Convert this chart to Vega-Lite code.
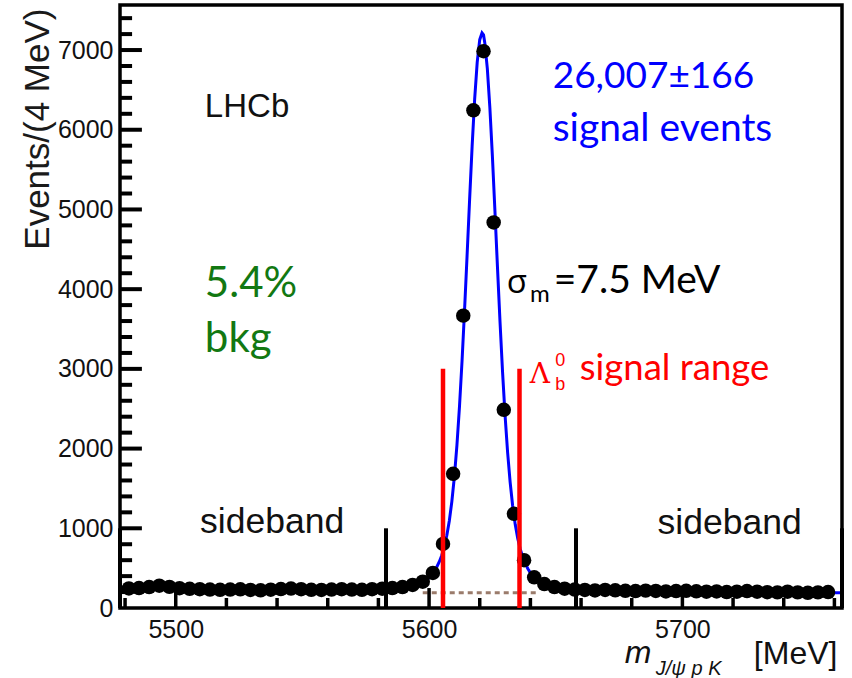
{
  "$schema": "https://vega.github.io/schema/vega-lite/v6.json",
  "width": 722,
  "height": 603,
  "autosize": {"type": "none"},
  "padding": {"left": 120, "top": 5, "right": 10, "bottom": 70},
  "background": "white",
  "config": {
    "view": {"stroke": "black", "strokeWidth": 3.5},
    "axis": {"grid": false, "labelFont": "Liberation Sans", "titleFont": "Liberation Sans"}
  },
  "datasets": {
    "points": [
      {"m": 5481.5, "n": 245}, {"m": 5485.5, "n": 250}, {"m": 5489.5, "n": 262}, {"m": 5493.5, "n": 280},
      {"m": 5497.5, "n": 265}, {"m": 5501.5, "n": 248}, {"m": 5505.5, "n": 240}, {"m": 5509.5, "n": 236},
      {"m": 5513.5, "n": 232}, {"m": 5517.5, "n": 228}, {"m": 5521.5, "n": 232}, {"m": 5525.5, "n": 235},
      {"m": 5529.5, "n": 226}, {"m": 5533.5, "n": 222}, {"m": 5537.5, "n": 230}, {"m": 5541.5, "n": 238},
      {"m": 5545.5, "n": 244}, {"m": 5549.5, "n": 236}, {"m": 5553.5, "n": 228}, {"m": 5557.5, "n": 226},
      {"m": 5561.5, "n": 232}, {"m": 5565.5, "n": 236}, {"m": 5569.5, "n": 232}, {"m": 5573.5, "n": 228},
      {"m": 5577.5, "n": 236}, {"m": 5581.5, "n": 242}, {"m": 5585.5, "n": 250}, {"m": 5589.5, "n": 262},
      {"m": 5593.5, "n": 290}, {"m": 5597.5, "n": 330}, {"m": 5601.5, "n": 440}, {"m": 5605.5, "n": 804},
      {"m": 5609.5, "n": 1683}, {"m": 5613.5, "n": 3668}, {"m": 5617.5, "n": 6244}, {"m": 5621.5, "n": 6985},
      {"m": 5625.5, "n": 4837}, {"m": 5629.5, "n": 2487}, {"m": 5633.5, "n": 1181}, {"m": 5637.5, "n": 600},
      {"m": 5641.5, "n": 385}, {"m": 5645.5, "n": 300}, {"m": 5649.5, "n": 262}, {"m": 5653.5, "n": 242},
      {"m": 5657.5, "n": 232}, {"m": 5661.5, "n": 226}, {"m": 5665.5, "n": 220}, {"m": 5669.5, "n": 226},
      {"m": 5673.5, "n": 222}, {"m": 5677.5, "n": 216}, {"m": 5681.5, "n": 212}, {"m": 5685.5, "n": 218},
      {"m": 5689.5, "n": 214}, {"m": 5693.5, "n": 208}, {"m": 5697.5, "n": 212}, {"m": 5701.5, "n": 216},
      {"m": 5705.5, "n": 210}, {"m": 5709.5, "n": 204}, {"m": 5713.5, "n": 208}, {"m": 5717.5, "n": 200},
      {"m": 5721.5, "n": 204}, {"m": 5725.5, "n": 212}, {"m": 5729.5, "n": 204}, {"m": 5733.5, "n": 198},
      {"m": 5737.5, "n": 196}, {"m": 5741.5, "n": 204}, {"m": 5745.5, "n": 196}, {"m": 5749.5, "n": 190},
      {"m": 5753.5, "n": 196}, {"m": 5757.5, "n": 200}
    ],
    "curve": [
      {"m": 5478, "f": 240}, {"m": 5490, "f": 238}, {"m": 5500, "f": 236}, {"m": 5510, "f": 234},
      {"m": 5520, "f": 233}, {"m": 5530, "f": 231}, {"m": 5540, "f": 229}, {"m": 5550, "f": 227},
      {"m": 5560, "f": 226}, {"m": 5570, "f": 224}, {"m": 5580, "f": 222}, {"m": 5585, "f": 224},
      {"m": 5590, "f": 235}, {"m": 5592, "f": 246}, {"m": 5594, "f": 263}, {"m": 5595, "f": 274},
      {"m": 5596, "f": 288}, {"m": 5597, "f": 305}, {"m": 5598, "f": 327}, {"m": 5599, "f": 351},
      {"m": 5600, "f": 380}, {"m": 5601, "f": 416}, {"m": 5602, "f": 458}, {"m": 5603, "f": 511},
      {"m": 5604, "f": 577}, {"m": 5605, "f": 659}, {"m": 5606, "f": 767}, {"m": 5607, "f": 909},
      {"m": 5608, "f": 1095}, {"m": 5609, "f": 1338}, {"m": 5610, "f": 1650}, {"m": 5611, "f": 2042},
      {"m": 5612, "f": 2523}, {"m": 5613, "f": 3089}, {"m": 5614, "f": 3729}, {"m": 5615, "f": 4418},
      {"m": 5616, "f": 5122}, {"m": 5617, "f": 5795}, {"m": 5618, "f": 6386}, {"m": 5619, "f": 6845},
      {"m": 5620, "f": 7130}, {"m": 5620.9, "f": 7215}, {"m": 5621.5, "f": 7190}, {"m": 5622, "f": 7089},
      {"m": 5623, "f": 6766}, {"m": 5624, "f": 6276}, {"m": 5625, "f": 5665}, {"m": 5626, "f": 4981},
      {"m": 5627, "f": 4276}, {"m": 5628, "f": 3594}, {"m": 5629, "f": 2966}, {"m": 5630, "f": 2417},
      {"m": 5631, "f": 1954}, {"m": 5632, "f": 1578}, {"m": 5633, "f": 1280}, {"m": 5634, "f": 1049},
      {"m": 5635, "f": 872}, {"m": 5636, "f": 738}, {"m": 5637, "f": 636}, {"m": 5638, "f": 556},
      {"m": 5639, "f": 493}, {"m": 5640, "f": 442}, {"m": 5641, "f": 401}, {"m": 5642, "f": 367},
      {"m": 5643, "f": 338}, {"m": 5644, "f": 313}, {"m": 5645, "f": 294}, {"m": 5646, "f": 277},
      {"m": 5648, "f": 251}, {"m": 5650, "f": 235}, {"m": 5655, "f": 215}, {"m": 5660, "f": 208},
      {"m": 5670, "f": 206}, {"m": 5680, "f": 205}, {"m": 5690, "f": 203}, {"m": 5700, "f": 201},
      {"m": 5710, "f": 199}, {"m": 5720, "f": 198}, {"m": 5730, "f": 196}, {"m": 5740, "f": 194},
      {"m": 5750, "f": 192}, {"m": 5763, "f": 190}
    ]
  },
  "resolve": {"axis": {"x": "independent", "y": "independent"}},
  "layer": [
    {
      "data": {"name": "curve"},
      "mark": {"type": "line", "color": "#0000ff", "strokeWidth": 3},
      "encoding": {
        "x": {"field": "m", "type": "quantitative", "scale": {"domain": [5478, 5763], "nice": false, "zero": false}, "axis": null},
        "y": {"field": "f", "type": "quantitative", "scale": {"domain": [0, 7565], "nice": false, "zero": false}, "axis": null}
      }
    },
    {
      "data": {"values": [{"a": 5597.5, "b": 5642.5, "v": 192}]},
      "mark": {"type": "rule", "color": "#9a7b6b", "strokeWidth": 3, "strokeDash": [5, 4]},
      "encoding": {
        "x": {"field": "a", "type": "quantitative", "scale": {"domain": [5478, 5763], "nice": false, "zero": false}, "axis": null},
        "x2": {"field": "b"},
        "y": {"field": "v", "type": "quantitative", "scale": {"domain": [0, 7565], "nice": false, "zero": false}, "axis": null}
      }
    },
    {
      "data": {"name": "points"},
      "mark": {"type": "circle", "size": 210, "color": "black", "opacity": 1},
      "encoding": {
        "x": {"field": "m", "type": "quantitative", "scale": {"domain": [5478, 5763], "nice": false, "zero": false},
          "axis": {"orient": "bottom", "values": [5500, 5600, 5700], "format": "d", "ticks": false,
            "domain": false, "labelFontSize": 25, "labelColor": "#111111", "labelPadding": 9, "labelFlush": false, "title": null}},
        "y": {"field": "n", "type": "quantitative", "scale": {"domain": [0, 7565], "nice": false, "zero": false},
          "axis": {"orient": "left", "values": [0, 1000, 2000, 3000, 4000, 5000, 6000, 7000], "format": "d", "ticks": false,
            "domain": false, "labelFontSize": 25, "labelColor": "#111111", "labelPadding": 7, "labelFlush": false,
            "title": "Events/(4 MeV)", "titleFontSize": 35, "titleFontWeight": "normal", "titleColor": "#1a1a1a",
            "titleX": -72, "titleY": 3, "titleAlign": "right", "titleBaseline": "alphabetic", "titleAngle": -90}}
      }
    },
    {
      "data": {"values": [{"m": 5478}, {"m": 5583}, {"m": 5658}, {"m": 5763}]},
      "mark": {"type": "rule", "color": "black", "strokeWidth": 4},
      "encoding": {
        "x": {"field": "m", "type": "quantitative", "scale": {"domain": [5478, 5763], "nice": false, "zero": false}, "axis": null},
        "y": {"datum": 0, "type": "quantitative", "scale": {"domain": [0, 7565], "nice": false, "zero": false}, "axis": null},
        "y2": {"datum": 1000}
      }
    },
    {
      "data": {"values": [{"m": 5605.5}, {"m": 5635.7}]},
      "mark": {"type": "rule", "color": "#ff0000", "strokeWidth": 4.5},
      "encoding": {
        "x": {"field": "m", "type": "quantitative", "scale": {"domain": [5478, 5763], "nice": false, "zero": false}, "axis": null},
        "y": {"datum": 0, "type": "quantitative", "scale": {"domain": [0, 7565], "nice": false, "zero": false}, "axis": null},
        "y2": {"datum": 3000}
      }
    },
    {
      "data": {"values": [{"label": "LHCb", "x": 5511.5, "y": 6160}]},
      "mark": {"type": "text", "align": "left", "baseline": "alphabetic", "font": "Liberation Sans", "fontSize": 33, "color": "#111111"},
      "encoding": {
        "x": {"field": "x", "type": "quantitative", "scale": {"domain": [5478, 5763], "nice": false, "zero": false}, "axis": null},
        "y": {"field": "y", "type": "quantitative", "scale": {"domain": [0, 7565], "nice": false, "zero": false}, "axis": null},
        "text": {"field": "label"}
      }
    },
    {
      "data": {"values": [
        {"label": "sideband", "x": 5509.6, "y": 941},
        {"label": "sideband", "x": 5690.2, "y": 928}
      ]},
      "mark": {"type": "text", "align": "left", "baseline": "alphabetic", "font": "Liberation Sans", "fontSize": 35.5, "color": "#111111"},
      "encoding": {
        "x": {"field": "x", "type": "quantitative", "scale": {"domain": [5478, 5763], "nice": false, "zero": false}, "axis": null},
        "y": {"field": "y", "type": "quantitative", "scale": {"domain": [0, 7565], "nice": false, "zero": false}, "axis": null},
        "text": {"field": "label"}
      }
    },
    {
      "data": {"values": [{"label": "26,007±166", "x": 5648.8, "y": 6523}]},
      "mark": {"type": "text", "align": "left", "baseline": "alphabetic", "font": "Lato", "fontSize": 37, "color": "#0000ff"},
      "encoding": {
        "x": {"field": "x", "type": "quantitative", "scale": {"domain": [5478, 5763], "nice": false, "zero": false}, "axis": null},
        "y": {"field": "y", "type": "quantitative", "scale": {"domain": [0, 7565], "nice": false, "zero": false}, "axis": null},
        "text": {"field": "label"}
      }
    },
    {
      "data": {"values": [{"label": "signal events", "x": 5648.8, "y": 5858}]},
      "mark": {"type": "text", "align": "left", "baseline": "alphabetic", "font": "Lato", "fontSize": 39, "color": "#0000ff"},
      "encoding": {
        "x": {"field": "x", "type": "quantitative", "scale": {"domain": [5478, 5763], "nice": false, "zero": false}, "axis": null},
        "y": {"field": "y", "type": "quantitative", "scale": {"domain": [0, 7565], "nice": false, "zero": false}, "axis": null},
        "text": {"field": "label"}
      }
    },
    {
      "data": {"values": [
        {"label": "5.4%", "x": 5511.5, "y": 3902},
        {"label": "bkg", "x": 5511.5, "y": 3212}
      ]},
      "mark": {"type": "text", "align": "left", "baseline": "alphabetic", "font": "Lato", "fontSize": 42, "color": "#127812"},
      "encoding": {
        "x": {"field": "x", "type": "quantitative", "scale": {"domain": [5478, 5763], "nice": false, "zero": false}, "axis": null},
        "y": {"field": "y", "type": "quantitative", "scale": {"domain": [0, 7565], "nice": false, "zero": false}, "axis": null},
        "text": {"field": "label"}
      }
    },
    {
      "data": {"values": [{"label": "σ", "x": 5630.7, "y": 3952}]},
      "mark": {"type": "text", "align": "left", "baseline": "alphabetic", "font": "Open Sans", "fontSize": 33, "color": "black"},
      "encoding": {
        "x": {"field": "x", "type": "quantitative", "scale": {"domain": [5478, 5763], "nice": false, "zero": false}, "axis": null},
        "y": {"field": "y", "type": "quantitative", "scale": {"domain": [0, 7565], "nice": false, "zero": false}, "axis": null},
        "text": {"field": "label"}
      }
    },
    {
      "data": {"values": [{"label": "m", "x": 5639.8, "y": 3839}]},
      "mark": {"type": "text", "align": "left", "baseline": "alphabetic", "font": "Lato", "fontSize": 24, "color": "black"},
      "encoding": {
        "x": {"field": "x", "type": "quantitative", "scale": {"domain": [5478, 5763], "nice": false, "zero": false}, "axis": null},
        "y": {"field": "y", "type": "quantitative", "scale": {"domain": [0, 7565], "nice": false, "zero": false}, "axis": null},
        "text": {"field": "label"}
      }
    },
    {
      "data": {"values": [{"label": "=7.5 MeV", "x": 5649.2, "y": 3952}]},
      "mark": {"type": "text", "align": "left", "baseline": "alphabetic", "font": "Lato", "fontSize": 39, "color": "black"},
      "encoding": {
        "x": {"field": "x", "type": "quantitative", "scale": {"domain": [5478, 5763], "nice": false, "zero": false}, "axis": null},
        "y": {"field": "y", "type": "quantitative", "scale": {"domain": [0, 7565], "nice": false, "zero": false}, "axis": null},
        "text": {"field": "label"}
      }
    },
    {
      "data": {"values": [{"label": "Λ", "x": 5639.7, "y": 2823}]},
      "mark": {"type": "text", "align": "left", "baseline": "alphabetic", "font": "DejaVu Serif", "fontSize": 28, "color": "#ff0000"},
      "encoding": {
        "x": {"field": "x", "type": "quantitative", "scale": {"domain": [5478, 5763], "nice": false, "zero": false}, "axis": null},
        "y": {"field": "y", "type": "quantitative", "scale": {"domain": [0, 7565], "nice": false, "zero": false}, "axis": null},
        "text": {"field": "label"}
      }
    },
    {
      "data": {"values": [{"label": "b", "x": 5649.8, "y": 2730}, {"label": "0", "x": 5649.8, "y": 3040}]},
      "mark": {"type": "text", "align": "left", "baseline": "alphabetic", "font": "Liberation Sans", "fontSize": 18, "color": "#ff0000"},
      "encoding": {
        "x": {"field": "x", "type": "quantitative", "scale": {"domain": [5478, 5763], "nice": false, "zero": false}, "axis": null},
        "y": {"field": "y", "type": "quantitative", "scale": {"domain": [0, 7565], "nice": false, "zero": false}, "axis": null},
        "text": {"field": "label"}
      }
    },
    {
      "data": {"values": [{"label": "signal range", "x": 5659.5, "y": 2860}]},
      "mark": {"type": "text", "align": "left", "baseline": "alphabetic", "font": "Lato", "fontSize": 36.5, "color": "#ff0000"},
      "encoding": {
        "x": {"field": "x", "type": "quantitative", "scale": {"domain": [5478, 5763], "nice": false, "zero": false}, "axis": null},
        "y": {"field": "y", "type": "quantitative", "scale": {"domain": [0, 7565], "nice": false, "zero": false}, "axis": null},
        "text": {"field": "label"}
      }
    },
    {
      "data": {"values": [{"label": "m", "x": 5677.2, "y": -690}]},
      "mark": {"type": "text", "align": "left", "baseline": "alphabetic", "font": "Liberation Sans", "fontSize": 32, "fontStyle": "italic", "color": "#111111"},
      "encoding": {
        "x": {"field": "x", "type": "quantitative", "scale": {"domain": [5478, 5763], "nice": false, "zero": false}, "axis": null},
        "y": {"field": "y", "type": "quantitative", "scale": {"domain": [0, 7565], "nice": false, "zero": false}, "axis": null},
        "text": {"field": "label"}
      }
    },
    {
      "data": {"values": [{"label": "J/ψ p K", "x": 5689.5, "y": -840}]},
      "mark": {"type": "text", "align": "left", "baseline": "alphabetic", "font": "Liberation Sans", "fontSize": 20, "fontStyle": "italic", "color": "#111111"},
      "encoding": {
        "x": {"field": "x", "type": "quantitative", "scale": {"domain": [5478, 5763], "nice": false, "zero": false}, "axis": null},
        "y": {"field": "y", "type": "quantitative", "scale": {"domain": [0, 7565], "nice": false, "zero": false}, "axis": null},
        "text": {"field": "label"}
      }
    },
    {
      "data": {"values": [{"label": "[MeV]", "x": 5761.2, "y": -700}]},
      "mark": {"type": "text", "align": "right", "baseline": "alphabetic", "font": "Liberation Sans", "fontSize": 32, "color": "#111111"},
      "encoding": {
        "x": {"field": "x", "type": "quantitative", "scale": {"domain": [5478, 5763], "nice": false, "zero": false}, "axis": null},
        "y": {"field": "y", "type": "quantitative", "scale": {"domain": [0, 7565], "nice": false, "zero": false}, "axis": null},
        "text": {"field": "label"}
      }
    },
    {
      "data": {"values": [{"t": 1000}, {"t": 2000}, {"t": 3000}, {"t": 4000}, {"t": 5000}, {"t": 6000}, {"t": 7000}]},
      "mark": {"type": "tick", "orient": "horizontal", "color": "black", "opacity": 1, "thickness": 4, "size": 22},
      "encoding": {
        "y": {"field": "t", "type": "quantitative", "scale": {"domain": [0, 7565], "nice": false, "zero": false}, "axis": null},
        "x": {"datum": 5482.3, "type": "quantitative", "scale": {"domain": [5478, 5763], "nice": false, "zero": false}, "axis": null}
      }
    },
    {
      "data": {"values": [
        {"t": 200}, {"t": 400}, {"t": 600}, {"t": 800}, {"t": 1200}, {"t": 1400}, {"t": 1600}, {"t": 1800},
        {"t": 2200}, {"t": 2400}, {"t": 2600}, {"t": 2800}, {"t": 3200}, {"t": 3400}, {"t": 3600}, {"t": 3800},
        {"t": 4200}, {"t": 4400}, {"t": 4600}, {"t": 4800}, {"t": 5200}, {"t": 5400}, {"t": 5600}, {"t": 5800},
        {"t": 6200}, {"t": 6400}, {"t": 6600}, {"t": 6800}, {"t": 7200}, {"t": 7400}
      ]},
      "mark": {"type": "tick", "orient": "horizontal", "color": "black", "opacity": 1, "thickness": 4, "size": 12},
      "encoding": {
        "y": {"field": "t", "type": "quantitative", "scale": {"domain": [0, 7565], "nice": false, "zero": false}, "axis": null},
        "x": {"datum": 5480.4, "type": "quantitative", "scale": {"domain": [5478, 5763], "nice": false, "zero": false}, "axis": null}
      }
    },
    {
      "data": {"values": [{"t": 5500}, {"t": 5600}, {"t": 5700}]},
      "mark": {"type": "tick", "orient": "vertical", "color": "black", "opacity": 1, "thickness": 3.5, "size": 20},
      "encoding": {
        "x": {"field": "t", "type": "quantitative", "scale": {"domain": [5478, 5763], "nice": false, "zero": false}, "axis": null},
        "y": {"datum": 125, "type": "quantitative", "scale": {"domain": [0, 7565], "nice": false, "zero": false}, "axis": null}
      }
    },
    {
      "data": {"values": [
        {"t": 5480}, {"t": 5520}, {"t": 5540}, {"t": 5560}, {"t": 5580}, {"t": 5620}, {"t": 5640},
        {"t": 5660}, {"t": 5680}, {"t": 5720}, {"t": 5740}, {"t": 5760}
      ]},
      "mark": {"type": "tick", "orient": "vertical", "color": "black", "opacity": 1, "thickness": 3.5, "size": 10},
      "encoding": {
        "x": {"field": "t", "type": "quantitative", "scale": {"domain": [5478, 5763], "nice": false, "zero": false}, "axis": null},
        "y": {"datum": 63, "type": "quantitative", "scale": {"domain": [0, 7565], "nice": false, "zero": false}, "axis": null}
      }
    }
  ]
}
